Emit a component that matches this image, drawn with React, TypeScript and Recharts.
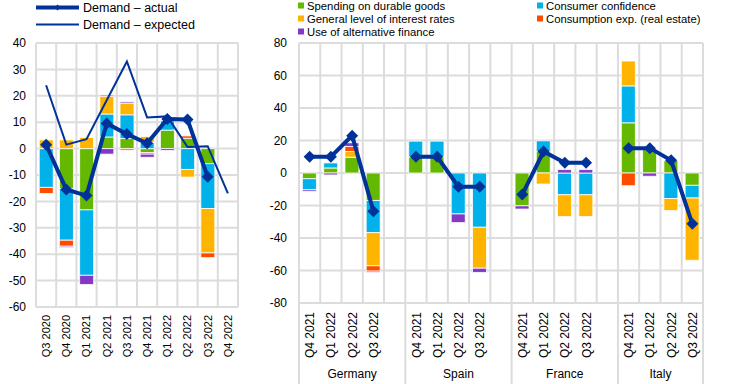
import { Bar, CartesianGrid, ComposedChart, Line, XAxis, YAxis } from "recharts";

// euro area, quarters
const quarters = ["Q3 2020", "Q4 2020", "Q1 2021", "Q2 2021", "Q3 2021", "Q4 2021", "Q1 2022", "Q2 2022", "Q3 2022", "Q4 2022"];
const eaDurable = [0, -15.2, -23.2, 4.4, 3.8, -1.5, 7.0, 3.9, -5.7, null];
const eaConfidence = [-14.7, -19.5, -24.8, 8.7, 9.0, 2.3, 3.5, -7.9, -17.0, null];
const eaInterest = [3.3, 3.3, 4.2, 6.7, 4.4, 2.3, 0, -2.9, -16.8, null];
const eaRealEstate = [-2.3, -2.3, 0, 0.5, -0.6, -0.6, 0, 0.9, -1.8, null];
const eaAltFinance = [0, -0.5, -3.5, -2.1, 0.5, -1.2, -0.7, 0, 0, null];
const eaActual = [1.5, -15.5, -17.8, 9.5, 5.5, 2, 11.2, 11, -10.7, null];
const eaExpected = [24, 1.5, 3.6, 18.3, 33, 11.8, 12.2, 0.6, 0.9, -17];

// countries
const countries = ["Germany", "Spain", "France", "Italy"];
const countryQuarters = ["Q4 2021", "Q1 2022", "Q2 2022", "Q3 2022"];
const ctDurable = [
  [-3.5, 3.1, 9.7, -16.9],
  [9.9, 9.9, 0, 0],
  [-20.2, 13.2, 0, 0],
  [30.9, 14.8, 7.6, -7.6],
];
const ctConfidence = [
  [-6.8, 3.1, 0, -19.8],
  [9.7, 9.7, -25.2, -33.4],
  [0, 6.6, -13.4, -13.4],
  [22.7, 0, -15.7, -7.8],
];
const ctInterest = [
  [0, 0, 3.5, -20.4],
  [0, 0, 0, -25.2],
  [0, -6.8, -13.4, -13.4],
  [15.3, 0, -7.4, -38.3],
];
const ctRealEstate = [
  [0, 0, 3.1, -3.3],
  [0, 0, 0, 0],
  [0, 0, 0, 0],
  [-7.8, 0, 0, 0],
];
const ctAltFinance = [
  [-1.0, -1.2, 2.3, -0.8],
  [0, 0, -5.3, -2.6],
  [-2.0, 0, 2.1, 2.1],
  [0, -2.0, 0, 0],
];
const ctActual = [
  [10, 10, 23, -23.5],
  [10, 10, -8.5, -8.5],
  [-13.3, 13.2, 6.3, 6.3],
  [15.3, 15.3, 7.8, -31.3],
];

const GREEN = "#65b800";
const BLUE = "#00b1ea";
const ORANGE = "#ffb400";
const RED = "#ff4b00";
const PURPLE = "#8139c6";
const NAVY = "#003299";
const GRID = "#dcdcdc";
const FONT = "'Liberation Sans', Arial, sans-serif";

const leftData = quarters.map((q, i) => ({
  q,
  durable: eaDurable[i],
  confidence: eaConfidence[i],
  interest: eaInterest[i],
  realEstate: eaRealEstate[i],
  altFinance: eaAltFinance[i],
  actual: eaActual[i],
  expected: eaExpected[i],
}));

// 4 quarters per country, an empty slot between countries
const rightData: any[] = [];
countries.forEach((c, ci) => {
  countryQuarters.forEach((q, qi) => {
    rightData.push({
      key: c + qi,
      q,
      country: c,
      qi,
      durable: ctDurable[ci][qi],
      confidence: ctConfidence[ci][qi],
      interest: ctInterest[ci][qi],
      realEstate: ctRealEstate[ci][qi],
      altFinance: ctAltFinance[ci][qi],
      actual: ctActual[ci][qi],
    });
  });
  if (ci < countries.length - 1) rightData.push({ key: "gap" + ci, q: "", country: "", qi: -1, actual: null });
});

const series = [
  { key: "durable", name: "Spending on durable goods", color: GREEN },
  { key: "confidence", name: "Consumer confidence", color: BLUE },
  { key: "interest", name: "General level of interest rates", color: ORANGE },
  { key: "realEstate", name: "Consumption exp. (real estate)", color: RED },
  { key: "altFinance", name: "Use of alternative finance", color: PURPLE },
];

const Diamond = (props: any) => {
  const { cx, cy, value } = props;
  if (value == null || cx == null || cy == null) return null;
  const r = 6;
  return <polygon points={`${cx},${cy - r} ${cx + r},${cy} ${cx},${cy + r} ${cx - r},${cy}`} fill={NAVY} />;
};

const L_W = 250;
const L_LEFT = 36;
const L_RIGHT = 12;

const R_W = 494;
const R_LEFT = 49;
const R_RIGHT = 41;
const R_CAT = (R_W - R_LEFT - R_RIGHT) / rightData.length;

const LeftTick = (props: any) => {
  const { x, y, payload } = props;
  return (
    <g transform={`translate(${x},${y})`}>
      <text transform="rotate(-90)" x={-8} dy="0.36em" textAnchor="end" fontSize={11} fill="#000" fontFamily={FONT}>
        {payload.value}
      </text>
    </g>
  );
};

const RightTick = (props: any) => {
  const { x, y, index } = props;
  const d = rightData[index];
  if (!d) return null;
  const groupW = index === rightData.length - 4 ? 4 * R_CAT : 5 * R_CAT;
  return (
    <g>
      {d.q && (
        <text transform={`translate(${x},${y}) rotate(-90)`} x={-9} dy="0.38em" textAnchor="end" fontSize={12} fill="#000" fontFamily={FONT}>
          {d.q}
        </text>
      )}
      {d.qi === 0 && (
        <>
          <line x1={x - R_CAT / 2} x2={x - R_CAT / 2} y1={y} y2={y + 81} stroke={GRID} strokeWidth={2} />
          <text x={x - R_CAT / 2 + groupW / 2} y={y + 75} textAnchor="middle" fontSize={12} fill="#000" fontFamily={FONT}>
            {d.country}
          </text>
        </>
      )}
      {index === rightData.length - 1 && (
        <line x1={x + R_CAT / 2} x2={x + R_CAT / 2} y1={y} y2={y + 81} stroke={GRID} strokeWidth={2} />
      )}
    </g>
  );
};

const leftVerticals = ({ offset }: any) =>
  Array.from({ length: quarters.length + 1 }, (_, i) => offset.left + (i * offset.width) / quarters.length);
const rightVerticals = ({ offset }: any) =>
  Array.from({ length: rightData.length + 1 }, (_, i) => offset.left + (i * offset.width) / rightData.length);

const LeftLegend = () => (
  <svg width={250} height={36} style={{ position: "absolute", left: 0, top: 0 }}>
    <line x1={36} x2={79} y1={7.5} y2={7.5} stroke={NAVY} strokeWidth={4} />
    <polygon points="57.5,4.5 60.5,7.5 57.5,10.5 54.5,7.5" fill={NAVY} />
    <text x={83} y={7.5} dy="0.36em" fontSize={12.5} fontFamily={FONT} fill="#000">Demand – actual</text>
    <line x1={36} x2={79} y1={24.5} y2={24.5} stroke={NAVY} strokeWidth={2} />
    <text x={83} y={24.5} dy="0.36em" fontSize={12.5} fontFamily={FONT} fill="#000">Demand – expected</text>
  </svg>
);

const RightLegend = () => {
  const pos = [
    [298, 5.5],
    [537, 5.5],
    [298, 18.5],
    [537, 18.5],
    [298, 31.5],
  ];
  return (
    <svg width={744} height={40} style={{ position: "absolute", left: 0, top: 0 }}>
      {series.map((s, i) => (
        <g key={s.key}>
          <rect x={pos[i][0]} y={pos[i][1] - 3} width={6} height={6} fill={s.color} />
          <text x={pos[i][0] + 9} y={pos[i][1]} dy="0.36em" fontSize={11.3} fontFamily={FONT} fill="#000">
            {s.name}
          </text>
        </g>
      ))}
    </svg>
  );
};

export default function App() {
  return (
    <div style={{ position: "absolute", left: 0, top: 0, width: 744, height: 384, background: "#fff", fontFamily: FONT }}>
      <div style={{ position: "absolute", left: 0, top: 0 }}>
        <ComposedChart
          width={L_W}
          height={384}
          data={leftData}
          stackOffset="sign"
          barCategoryGap="16%"
          margin={{ top: 43, right: L_RIGHT, bottom: 0, left: 0 }}
        >
          <CartesianGrid stroke={GRID} strokeWidth={2} verticalCoordinatesGenerator={leftVerticals} />
          <XAxis dataKey="q" interval={0} axisLine={false} tickLine={false} tickSize={0} tickMargin={0} height={77} tick={<LeftTick />} />
          <YAxis
            domain={[-60, 40]}
            ticks={[-60, -50, -40, -30, -20, -10, 0, 10, 20, 30, 40]}
            width={L_LEFT}
            axisLine={false}
            tickLine={false}
            tickMargin={4}
            tick={{ fontSize: 12, fill: "#000", fontFamily: FONT }}
          />
          {series.map((s) => (
            <Bar key={s.key} dataKey={s.key} stackId="a" fill={s.color} stroke="#fff" strokeWidth={0.8} isAnimationActive={false} />
          ))}
          <Line dataKey="expected" stroke={NAVY} strokeWidth={2} dot={false} isAnimationActive={false} />
          <Line dataKey="actual" stroke={NAVY} strokeWidth={4} dot={<Diamond />} activeDot={false} isAnimationActive={false} />
        </ComposedChart>
      </div>
      <div style={{ position: "absolute", left: 250, top: 0 }}>
        <ComposedChart
          width={R_W}
          height={384}
          data={rightData}
          stackOffset="sign"
          barCategoryGap="16%"
          margin={{ top: 43, right: R_RIGHT, bottom: 0, left: 0 }}
        >
          <CartesianGrid stroke={GRID} strokeWidth={2} verticalCoordinatesGenerator={rightVerticals} />
          <XAxis dataKey="key" interval={0} axisLine={false} tickLine={false} tickSize={0} tickMargin={0} height={81} tick={<RightTick />} />
          <YAxis
            domain={[-80, 80]}
            ticks={[-80, -60, -40, -20, 0, 20, 40, 60, 80]}
            width={R_LEFT}
            axisLine={false}
            tickLine={false}
            tickMargin={6}
            tick={{ fontSize: 12, fill: "#000", fontFamily: FONT }}
          />
          {series.map((s) => (
            <Bar key={s.key} dataKey={s.key} stackId="a" fill={s.color} stroke="#fff" strokeWidth={0.8} isAnimationActive={false} />
          ))}
          <Line dataKey="actual" stroke={NAVY} strokeWidth={4} dot={<Diamond />} activeDot={false} isAnimationActive={false} />
        </ComposedChart>
      </div>
      <LeftLegend />
      <RightLegend />
    </div>
  );
}
